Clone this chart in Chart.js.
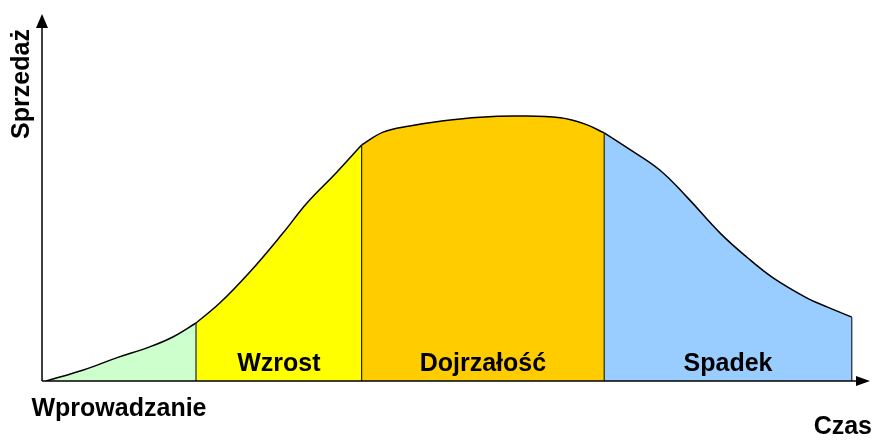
<!DOCTYPE html>
<html>
<head>
<meta charset="utf-8">
<script src="https://cdn.jsdelivr.net/npm/chart.js@4"></script>
<style>
  html, body { margin: 0; padding: 0; background: #fff; }
  #wrap { width: 875px; height: 441px; position: relative; }
</style>
</head>
<body>
<div id="wrap"><canvas id="myChartCykl"></canvas></div>
<script>
// Etapy cyklu życia produktu
const stages = ['Wprowadzanie', 'Wzrost', 'Dojrzałość', 'Spadek'];
const stageColors = ['#ccffcc', '#ffff00', '#ffcc00', '#99ccff'];

// Czas (0-100) i sprzedaż (0-100)
const introTime = [0.5, 5, 9, 13, 15.8, 18.6];
const introSales = [0, 3, 6.3, 9.3, 12, 15.8];

const growthTime = [18.6, 21.5, 25.1, 29.1, 32, 35.6, 38.6];
const growthSales = [15.8, 21.3, 29.7, 40.3, 48.5, 56.9, 64.3];

const maturityTime = [38.6, 41.2, 44.4, 48.1, 52.9, 57.7, 62.6, 65.6, 67.9];
const maturitySales = [64.3, 67.8, 69.5, 70.8, 71.9, 72.2, 71.7, 70, 67.6];

const declineTime = [67.9, 70.7, 74.6, 77.9, 81.9, 85.1, 88.3, 92.4, 94.8, 97.8];
const declineSales = [67.6, 63.5, 57.5, 50.1, 40.3, 33.8, 28.1, 22.6, 20.2, 17.4];

const stageTimes = [introTime, growthTime, maturityTime, declineTime];
const stageSales = [introSales, growthSales, maturitySales, declineSales];

const toPoints = (xs, ys) => xs.map((x, i) => ({ x: x, y: ys[i] }));

const datasets = stages.map((name, i) => ({
    label: name,
    data: toPoints(stageTimes[i], stageSales[i]),
    backgroundColor: stageColors[i],
    borderColor: '#000',
    borderWidth: 1.5,
    fill: 'origin',
    pointRadius: 0,
    tension: 0.4,
    order: 2
}));

// Linie pionowe na granicach etapów
stages.forEach((name, i) => {
    const xs = stageTimes[i];
    const ys = stageSales[i];
    const lastX = xs[xs.length - 1];
    datasets.push({
        label: name + ' granica',
        data: [{ x: lastX, y: 0 }, { x: lastX, y: ys[ys.length - 1] }],
        borderColor: '#222',
        borderWidth: 1.2,
        fill: false,
        pointRadius: 0,
        order: 1
    });
});

const font = "bold 25px 'Liberation Sans', Arial, sans-serif";

const labelsPlugin = {
    id: 'cyklLabels',
    afterDraw(chart) {
        const ctx = chart.ctx;
        const area = chart.chartArea;
        const xs = chart.scales.x;
        ctx.save();

        // Osie ze strzałkami
        ctx.strokeStyle = '#000';
        ctx.fillStyle = '#000';
        ctx.lineWidth = 1.5;
        ctx.beginPath();
        ctx.moveTo(area.left, area.bottom);
        ctx.lineTo(area.left, area.top + 10);
        ctx.moveTo(area.left, area.bottom);
        ctx.lineTo(area.right - 10, area.bottom);
        ctx.stroke();
        ctx.beginPath();
        ctx.moveTo(area.left, area.top);
        ctx.lineTo(area.left - 6, area.top + 14);
        ctx.lineTo(area.left + 6, area.top + 14);
        ctx.closePath();
        ctx.fill();
        ctx.beginPath();
        ctx.moveTo(area.right, area.bottom);
        ctx.lineTo(area.right - 14, area.bottom - 5);
        ctx.lineTo(area.right - 14, area.bottom + 5);
        ctx.closePath();
        ctx.fill();

        // Nazwy etapów
        ctx.font = font;
        ctx.textAlign = 'center';
        ctx.textBaseline = 'middle';
        stages.forEach((name, i) => {
            const t = stageTimes[i];
            const start = i === 0 ? 0 : t[0];
            const mid = xs.getPixelForValue((start + t[t.length - 1]) / 2);
            if (i === 0) {
                ctx.fillText(name, mid, area.bottom + 28);
            } else {
                ctx.fillText(name, mid, area.bottom - 17);
            }
        });

        // Tytuły osi
        ctx.textAlign = 'right';
        ctx.fillText('Czas', 872, area.bottom + 46);
        ctx.translate(22, 84);
        ctx.rotate(-Math.PI / 2);
        ctx.textAlign = 'center';
        ctx.fillText('Sprzedaż', 0, 0);
        ctx.restore();
    }
};

const ctxCykl = document.getElementById('myChartCykl').getContext('2d');
const myChartCykl = new Chart(ctxCykl, {
    type: 'line',
    data: { datasets: datasets },
    options: {
        responsive: true,
        maintainAspectRatio: false,
        animation: false,
        layout: {
            padding: { left: 42, right: 5, top: 14, bottom: 60 }
        },
        plugins: {
            legend: { display: false },
            tooltip: { enabled: false }
        },
        scales: {
            x: { type: 'linear', min: 0, max: 100, display: false },
            y: { min: 0, max: 100, display: false }
        }
    },
    plugins: [labelsPlugin]
});
</script>
</body>
</html>
